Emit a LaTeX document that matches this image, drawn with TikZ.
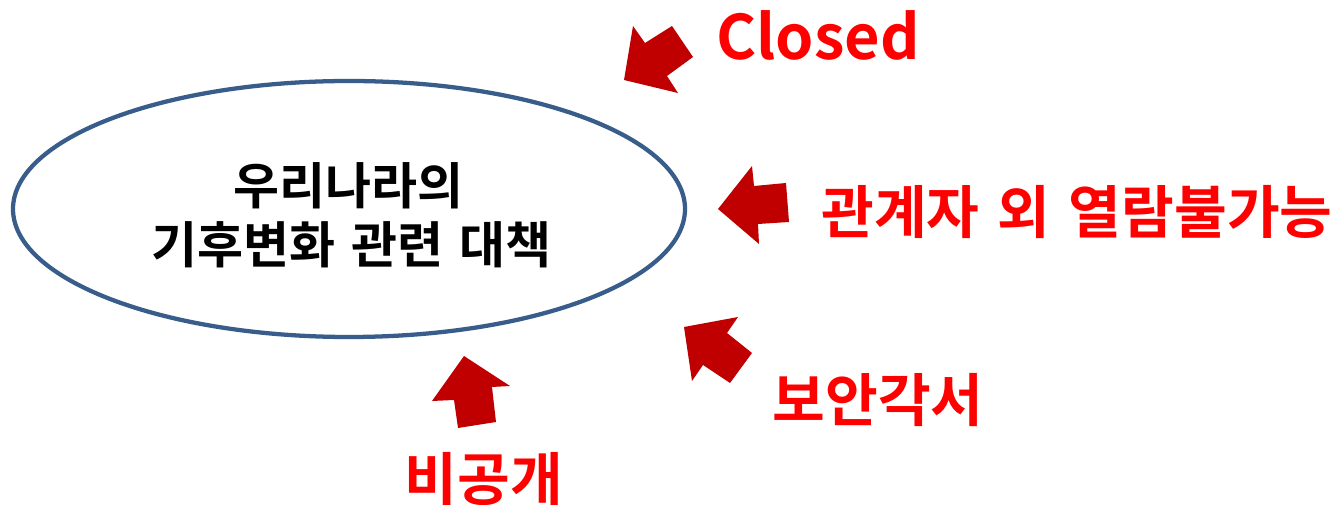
\documentclass[tikz,border=0pt]{standalone}
\usepackage{fontspec}
\setmainfont{Noto Sans CJK KR}[BoldFont={* Bold}]
\usetikzlibrary{shapes.geometric}
\definecolor{ellblue}{HTML}{385D8A}
\definecolor{arrred}{HTML}{C00000}
\definecolor{txtred}{HTML}{FF0000}
\newcommand{\wsp}{\hspace{0.32em}}
\begin{document}
\begin{tikzpicture}[x=0.75pt,y=-0.75pt,
  blockarrow/.style={fill=arrred,draw=none},
  redlabel/.style={text=txtred,font=\bfseries\fontsize{43pt}{48pt}\selectfont,inner sep=0pt,anchor=center},
  blacklabel/.style={text=black,font=\bfseries\fontsize{37.5pt}{42pt}\selectfont,inner sep=0pt,anchor=center}]
\useasboundingbox (0,0) rectangle (1338,505);
\node[ellipse,draw=ellblue,line width=3.2pt,minimum width=504pt,minimum height=192pt,inner sep=0pt] (ell) at (349,209) {};
\node[blacklabel] (t1) at (348,186) {우리나라의};
\node[blacklabel] (t2) at (351,245) {기후변화\wsp 관련\wsp 대책};
\node[redlabel,font=\bfseries\fontsize{46pt}{50pt}\selectfont] (closed) at (818,35) {Closed};
\node[redlabel] (rel) at (1077,212) {관계자\wsp 외\wsp 열람불가능};
\node[redlabel] (sec) at (878,400) {보안각서};
\node[redlabel] (non) at (484,479) {비공개};
% block arrows
\fill[blockarrow] (624,80) -- (633,26) -- (645,43) -- (672,26) -- (693,57) -- (667,76) -- (678,93) -- cycle;
\fill[blockarrow] (718,209) -- (752,166) -- (754,186) -- (786,183) -- (789,222) -- (758,224) -- (759,244) -- cycle;
\fill[blockarrow] (684,327) -- (738,317) -- (727,333) -- (752,353) -- (730,383) -- (703,365) -- (692,381) -- cycle;
\fill[blockarrow] (464,356) -- (510,386) -- (492,387) -- (496,422) -- (458,428) -- (454,400) -- (432,401) -- cycle;
\end{tikzpicture}
\end{document}
